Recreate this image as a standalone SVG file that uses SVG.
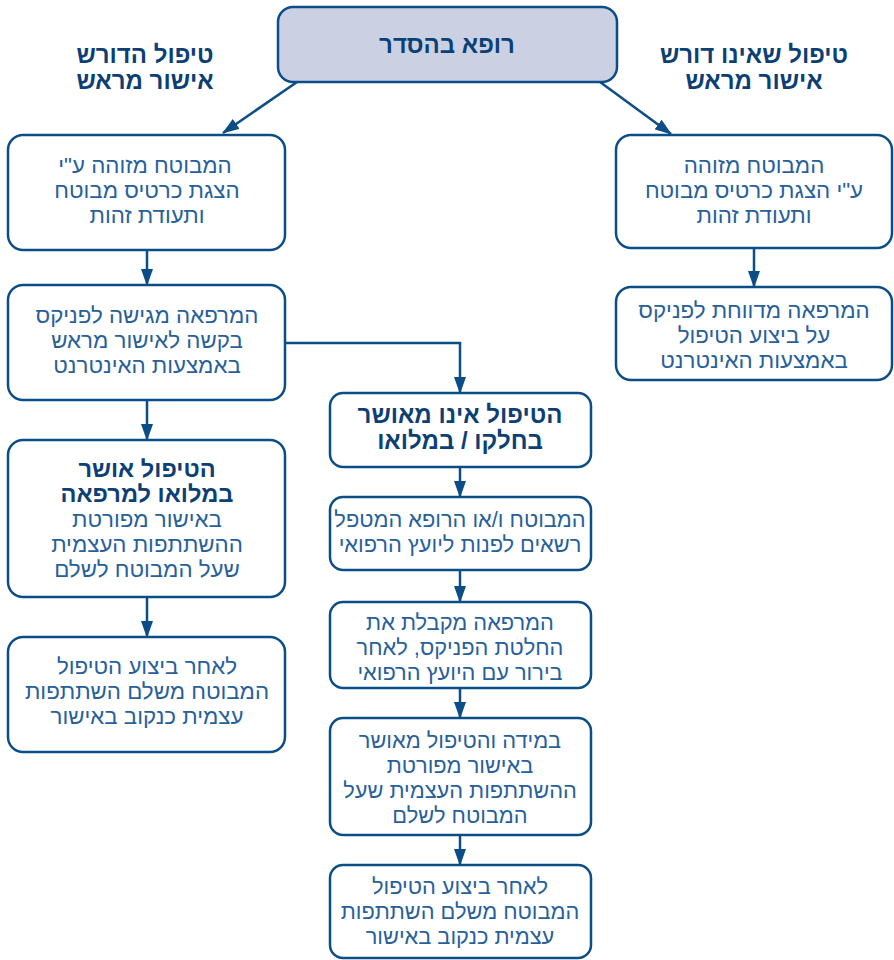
<svg xmlns="http://www.w3.org/2000/svg" width="894" height="960" viewBox="0 0 894 960">
<style>
.box{fill:#fff;stroke:#0b4d86;stroke-width:2.5}
.top{fill:#cbd1e3;stroke:#0b4d86;stroke-width:2.5}
text{font-family:"Liberation Sans","DejaVu Sans",sans-serif;text-anchor:middle;direction:rtl}
.t{font-size:22.3px;fill:#27609a}
.m{font-size:21.8px;fill:#27609a}
.b{font-size:23.6px;font-weight:bold;fill:#0c3f74}
.h{font-size:24px;font-weight:bold;fill:#0c3f74}
.c{fill:none;stroke:#0b4d86;stroke-width:2.5}
</style>
<defs>
<marker id="ah" markerWidth="17" markerHeight="12" refX="16" refY="6" orient="auto" markerUnits="userSpaceOnUse" viewBox="0 0 17 12">
<path d="M0,0 L17,6 L0,12 z" fill="#0b4d86"/>
</marker>
</defs>
<g id="connectors">
<path class="c" d="M297,82 L223,133" marker-end="url(#ah)"/>
<path class="c" d="M600,82 L671,134" marker-end="url(#ah)"/>
<path class="c" d="M147,250 L147,285" marker-end="url(#ah)"/>
<path class="c" d="M754,249 L754,287" marker-end="url(#ah)"/>
<path class="c" d="M147,400 L147,440" marker-end="url(#ah)"/>
<path class="c" d="M285,343 L460,343 L460,393" marker-end="url(#ah)"/>
<path class="c" d="M147,597 L147,637" marker-end="url(#ah)"/>
<path class="c" d="M460,467 L460,497" marker-end="url(#ah)"/>
<path class="c" d="M460,570 L460,602" marker-end="url(#ah)"/>
<path class="c" d="M460,688 L460,718" marker-end="url(#ah)"/>
<path class="c" d="M460,835 L460,865" marker-end="url(#ah)"/>
</g>
<g id="top">
<rect class="top" x="278" y="7" width="339" height="75" rx="15"/>
<text class="h" x="447" y="53">רופא בהסדר</text>
</g>
<g id="label-left">
<text class="h" x="145" y="63">טיפול הדורש</text>
<text class="h" x="145" y="89">אישור מראש</text>
</g>
<g id="label-right">
<text class="h" x="754" y="63">טיפול שאינו דורש</text>
<text class="h" x="754" y="89">אישור מראש</text>
</g>
<g id="left1">
<rect class="box" x="8" y="135" width="277" height="115" rx="15"/>
<text class="t" x="145" y="173">המבוטח מזוהה ע"י</text>
<text class="t" x="147" y="198">הצגת כרטיס מבוטח</text>
<text class="t" x="147" y="223">ותעודת זהות</text>
</g>
<g id="left2">
<rect class="box" x="8" y="285" width="277" height="115" rx="15"/>
<text class="t" x="147" y="323">המרפאה מגישה לפניקס</text>
<text class="t" x="147" y="348">בקשה לאישור מראש</text>
<text class="t" x="147" y="373">באמצעות האינטרנט</text>
</g>
<g id="left3">
<rect class="box" x="8" y="440" width="277" height="157" rx="15"/>
<text class="b" x="147" y="477">הטיפול אושר</text>
<text class="b" x="147" y="502">במלואו למרפאה</text>
<text class="t" x="147" y="527">באישור מפורטת</text>
<text class="t" x="147" y="552">ההשתתפות העצמית</text>
<text class="t" x="147" y="577">שעל המבוטח לשלם</text>
</g>
<g id="left4">
<rect class="box" x="8" y="637" width="277" height="115" rx="15"/>
<text class="t" x="147" y="674">לאחר ביצוע הטיפול</text>
<text class="t" x="147" y="699">המבוטח משלם השתתפות</text>
<text class="t" x="147" y="724">עצמית כנקוב באישור</text>
</g>
<g id="right1">
<rect class="box" x="616" y="135" width="276" height="113" rx="15"/>
<text class="t" x="754" y="173">המבוטח מזוהה</text>
<text class="t" x="754" y="198">ע"י הצגת כרטיס מבוטח</text>
<text class="t" x="754" y="223">ותעודת זהות</text>
</g>
<g id="right2">
<rect class="box" x="616" y="287" width="276" height="93" rx="15"/>
<text class="t" x="754" y="318">המרפאה מדווחת לפניקס</text>
<text class="t" x="754" y="343">על ביצוע הטיפול</text>
<text class="t" x="754" y="368">באמצעות האינטרנט</text>
</g>
<g id="mid1">
<rect class="box" x="330" y="393" width="261" height="74" rx="13"/>
<text class="h" x="460" y="423">הטיפול אינו מאושר</text>
<text class="h" x="460" y="449">בחלקו / במלואו</text>
</g>
<g id="mid2">
<rect class="box" x="330" y="497" width="261" height="73" rx="13"/>
<text class="m" x="460" y="527">המבוטח ו/או הרופא המטפל</text>
<text class="m" x="460" y="552">רשאים לפנות ליועץ הרפואי</text>
</g>
<g id="mid3">
<rect class="box" x="330" y="602" width="261" height="86" rx="13"/>
<text class="m" x="460" y="630">המרפאה מקבלת את</text>
<text class="m" x="460" y="655">החלטת הפניקס, לאחר</text>
<text class="m" x="460" y="680">בירור עם היועץ הרפואי</text>
</g>
<g id="mid4">
<rect class="box" x="330" y="718" width="261" height="117" rx="13"/>
<text class="m" x="460" y="748">במידה והטיפול מאושר</text>
<text class="m" x="460" y="773">באישור מפורטת</text>
<text class="m" x="460" y="798">ההשתתפות העצמית שעל</text>
<text class="m" x="460" y="823">המבוטח לשלם</text>
</g>
<g id="mid5">
<rect class="box" x="330" y="865" width="261" height="93" rx="13"/>
<text class="m" x="460" y="894">לאחר ביצוע הטיפול</text>
<text class="m" x="460" y="919">המבוטח משלם השתתפות</text>
<text class="m" x="460" y="944">עצמית כנקוב באישור</text>
</g>
</svg>
